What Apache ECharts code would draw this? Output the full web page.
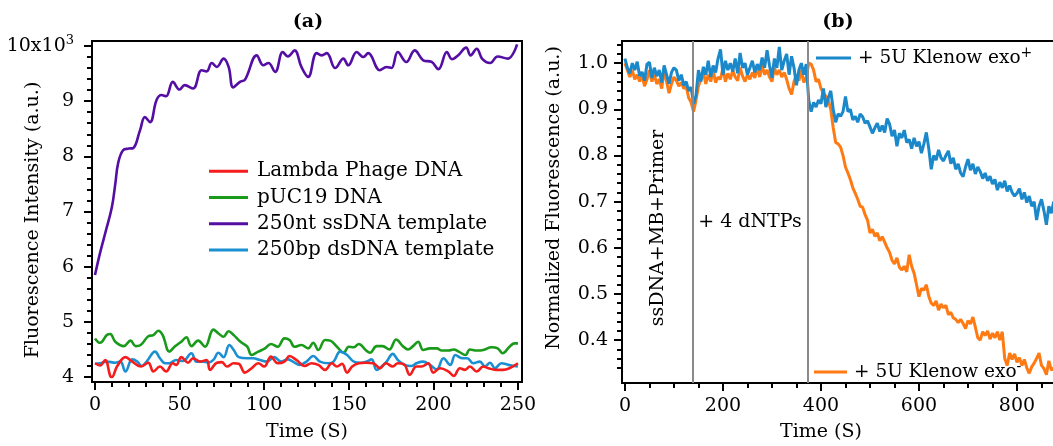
<!DOCTYPE html>
<html>
<head>
<meta charset="utf-8">
<script src="https://cdn.jsdelivr.net/npm/echarts@6/dist/echarts.min.js"></script>
<style>
  html, body { margin: 0; padding: 0; background: #fff; }
  #chart { width: 1053px; height: 446px; }
</style>
</head>
<body>
<div id="chart"></div>
<script>
// ---------- Panel (a): fluorescence vs time, [time (s), intensity (x10^3 a.u.)] ----------
const seriesNamesA = ['Lambda Phage DNA', 'pUC19 DNA', '250nt ssDNA template', '250bp dsDNA template'];
const colorsA = ['#f51c1c', '#1a9a1a', '#540ea3', '#1a8fd2'];

const lambdaData = [[0,4.25],[3,4.21],[6,4.31],[9,4.02],[10,4.0],[13,4.19],[18,4.36],[22,4.28],[27,4.19],[31.5,4.26],[34.5,4.10],[38.4,4.19],[42,4.10],[46,4.25],[48,4.22],[51,4.36],[55,4.26],[58,4.34],[62,4.28],[66,4.31],[68,4.13],[72,4.26],[75,4.27],[78,4.19],[82,4.25],[85,4.24],[88.6,4.08],[92.6,4.16],[96.5,4.25],[100,4.19],[104,4.37],[108,4.25],[112,4.28],[115,4.38],[119,4.31],[124,4.20],[128,4.25],[132,4.22],[136,4.13],[140,4.25],[143,4.19],[146,4.24],[149,4.08],[152,4.19],[156,4.25],[160,4.26],[164.5,4.25],[168.4,4.16],[172,4.25],[176,4.19],[179,4.25],[183,4.22],[186,4.04],[190,4.19],[193,4.19],[197,4.25],[200,4.08],[204,4.16],[209,4.10],[212,4.02],[215.7,4.16],[218.7,4.13],[221.6,4.19],[225.6,4.10],[229.5,4.19],[232.5,4.16],[237,4.13],[241,4.13],[245,4.16],[250,4.25]];

const pucData = [[0,4.70],[3,4.62],[7,4.76],[9,4.78],[12,4.64],[17,4.56],[21,4.66],[24,4.56],[27,4.58],[31.5,4.74],[34.5,4.76],[37.4,4.84],[40,4.76],[44,4.46],[47,4.55],[51,4.64],[54,4.72],[57,4.56],[61,4.66],[65,4.55],[70,4.86],[73,4.79],[76,4.73],[79,4.83],[82,4.76],[86,4.64],[90,4.55],[92.6,4.40],[96.5,4.46],[100.5,4.52],[104,4.60],[108,4.55],[112,4.70],[115,4.67],[118,4.55],[122,4.58],[126,4.52],[129,4.62],[132,4.49],[136,4.67],[139,4.66],[143,4.55],[147,4.44],[150,4.55],[153,4.54],[156,4.60],[160,4.49],[162.5,4.44],[166.5,4.56],[170,4.56],[174,4.50],[178,4.68],[182,4.56],[185,4.50],[188,4.56],[191,4.64],[194,4.49],[198,4.52],[202,4.52],[205,4.48],[209,4.48],[212,4.50],[215,4.46],[219,4.40],[221.6,4.50],[225.6,4.48],[229.5,4.49],[234.4,4.54],[238,4.52],[241,4.43],[245,4.55],[248,4.61],[250,4.61]];

const ssData = [[0,5.85],[3,6.25],[6.5,6.66],[10,7.08],[12,7.5],[13.7,7.88],[16.6,8.11],[20,8.14],[22.6,8.15],[26.6,8.47],[29.5,8.71],[32.5,8.62],[36.4,9.02],[39.3,9.11],[42,9.09],[46,9.35],[50,9.21],[53,9.29],[58,9.23],[63,9.56],[66,9.54],[69,9.69],[72,9.62],[76,9.77],[79,9.62],[81.7,9.25],[85.7,9.35],[88.7,9.39],[95.6,9.83],[99.5,9.65],[102.5,9.69],[106.5,9.53],[111,9.89],[114,9.81],[118,9.92],[122,9.62],[126,9.44],[131,9.87],[134,9.83],[137,9.87],[142,9.60],[146.8,9.77],[149.7,9.65],[154.7,9.89],[158.6,9.80],[161.5,9.87],[168.4,9.56],[172.3,9.62],[175.2,9.60],[179,9.89],[184,9.71],[189,9.92],[194,9.74],[199,9.71],[203,9.58],[208,9.89],[211,9.76],[214.7,9.83],[219.4,9.97],[222,9.83],[225.6,9.95],[229,9.76],[233.5,9.69],[238,9.81],[244,9.77],[249.5,10.03]];

const dsData = [[0,4.24],[3,4.25],[7,4.28],[12,4.26],[15,4.28],[18,4.10],[22,4.32],[25,4.28],[27.6,4.20],[30.5,4.28],[35.5,4.46],[38.4,4.34],[41.4,4.25],[44,4.25],[48,4.31],[52,4.29],[57,4.43],[60,4.28],[64,4.28],[67,4.26],[70,4.31],[73,4.44],[76,4.36],[79.4,4.58],[82,4.49],[85,4.36],[90,4.34],[93.6,4.34],[97.5,4.31],[101.5,4.28],[106,4.36],[110,4.28],[114,4.32],[117,4.28],[121,4.22],[125,4.28],[129,4.38],[133,4.28],[138,4.25],[141,4.28],[145,4.46],[149,4.40],[153,4.28],[157,4.26],[160.5,4.28],[163.5,4.32],[166.5,4.13],[169.4,4.19],[172.4,4.28],[176,4.42],[179,4.31],[183,4.22],[187,4.20],[190,4.25],[194,4.28],[198,4.22],[202,4.14],[206,4.34],[210,4.22],[213,4.40],[217,4.34],[220,4.34],[223.6,4.25],[227.5,4.28],[230.5,4.19],[233.5,4.26],[236.4,4.16],[240.3,4.25],[244.4,4.22],[248,4.20],[250,4.19]];

const xTicksA = [0, 50, 100, 150, 200, 250];
const yTicksA = [4, 5, 6, 7, 8, 9, 10];

// ---------- Panel (b): normalized fluorescence, sampled every 5 s ----------
const seriesNamesB = ['+ 5U Klenow exo+', '+ 5U Klenow exo-'];
const colorsB = ['#1b88c9', '#ff7a12'];

const timeB = [
  0,5,10,15,20,25,30,35,40,45, 50,55,60,65,70,75,80,85,90,95,
  100,105,110,115,120,125,130,135,140,145, 150,155,160,165,170,175,180,185,190,195,
  200,205,210,215,220,225,230,235,240,245, 250,255,260,265,270,275,280,285,290,295,
  300,305,310,315,320,325,330,335,340,345, 350,355,360,365,370,375,380,385,390,395,
  400,405,410,415,420,425,430,435,440,445, 450,455,460,465,470,475,480,485,490,495,
  500,505,510,515,520,525,530,535,540,545, 550,555,560,565,570,575,580,585,590,595,
  600,605,610,615,620,625,630,635,640,645, 650,655,660,665,670,675,680,685,690,695,
  700,705,710,715,720,725,730,735,740,745, 750,755,760,765,770,775,780,785,790,795,
  800,805,810,815,820,825,830,835,840,845, 850,855,860,865,870,875,880
];

const exoPlus = [
  1.010,0.990,0.978,1.000,0.985,1.003,0.972,0.981,0.962,0.998,
  1.002,0.968,0.990,0.972,0.985,0.958,0.995,0.975,0.955,0.980,
  0.990,0.985,0.962,0.975,0.952,0.960,0.940,0.948,0.912,0.930,
  0.985,0.960,0.992,0.975,1.005,0.970,0.995,0.980,1.010,1.030,
  0.975,1.005,0.985,1.000,0.982,1.010,0.978,1.022,0.990,1.000,
  0.975,0.990,1.005,0.980,0.998,0.985,1.012,0.990,1.028,0.995,
  0.968,1.010,0.990,1.035,0.985,1.005,1.020,0.975,1.015,0.990,
  0.952,0.985,1.000,0.975,0.998,0.920,0.895,0.915,0.905,0.920,
  0.912,0.945,0.905,0.925,0.940,0.900,0.872,0.890,0.885,0.895,
  0.928,0.895,0.900,0.877,0.885,0.872,0.890,0.884,0.870,0.875,
  0.862,0.848,0.860,0.870,0.852,0.865,0.850,0.880,0.868,0.842,
  0.855,0.820,0.848,0.838,0.855,0.828,0.835,0.815,0.838,0.820,
  0.830,0.805,0.825,0.850,0.815,0.770,0.800,0.790,0.812,0.795,
  0.788,0.800,0.810,0.782,0.795,0.770,0.782,0.762,0.754,0.775,
  0.792,0.768,0.782,0.760,0.775,0.765,0.750,0.762,0.745,0.755,
  0.738,0.748,0.725,0.742,0.730,0.745,0.722,0.735,0.720,0.712,
  0.718,0.728,0.705,0.720,0.698,0.712,0.690,0.700,0.660,0.690,
  0.705,0.680,0.650,0.690,0.675,0.700,0.680
];

const exoMinus = [
  1.000,0.985,0.970,0.985,0.965,0.975,0.960,0.975,0.950,0.965,
  0.985,0.960,0.975,0.955,0.965,0.945,0.985,0.960,0.935,0.955,
  0.970,0.962,0.950,0.958,0.945,0.950,0.925,0.915,0.895,0.920,
  0.950,0.965,0.980,0.955,0.975,0.960,0.985,0.958,0.970,0.965,
  0.990,0.960,0.978,0.965,0.985,0.970,0.962,0.990,0.972,0.960,
  0.975,0.965,0.980,0.968,0.990,0.970,0.995,0.975,0.985,0.970,
  0.960,0.990,0.975,0.985,0.970,0.980,0.965,0.945,0.932,0.960,
  0.975,0.962,0.985,0.958,0.970,1.000,0.998,0.985,0.960,0.965,
  0.945,0.935,0.928,0.920,0.900,0.860,0.828,0.825,0.818,0.800,
  0.775,0.762,0.748,0.730,0.718,0.705,0.690,0.688,0.672,0.660,
  0.632,0.640,0.625,0.632,0.615,0.624,0.612,0.600,0.590,0.573,
  0.565,0.578,0.558,0.552,0.560,0.548,0.585,0.560,0.545,0.520,
  0.494,0.512,0.508,0.520,0.495,0.480,0.475,0.485,0.465,0.478,
  0.470,0.475,0.455,0.460,0.448,0.445,0.438,0.445,0.436,0.425,
  0.442,0.435,0.450,0.428,0.405,0.400,0.418,0.410,0.420,0.402,
  0.415,0.405,0.418,0.400,0.418,0.360,0.345,0.372,0.358,0.370,
  0.352,0.362,0.345,0.358,0.340,0.328,0.342,0.350,0.360,0.372,
  0.345,0.338,0.325,0.355,0.335,0.340,0.330
];

// Times at which reagents were added (grey markers)
const additionTimes = [139, 373];

const xTicksB = [0, 200, 400, 600, 800];
const yTicksB = [0.4, 0.5, 0.6, 0.7, 0.8, 0.9, 1.0];

// ---------- helpers ----------
const FONT = 'DejaVu Serif';
const FS = 19;
const FS_LEGEND_A = 20;
const FS_LEGEND_B = 18.5;

function minorBetween(lo, hi, step, skipEvery) {
  // minor tick positions on an integer grid to avoid float drift
  const out = [];
  const n = Math.round((hi - lo) / step);
  for (let i = 0; i <= n; i++) {
    if (i % skipEvery !== 0) out.push(+(lo + i * step).toFixed(4));
  }
  return out;
}
const xMinorA = minorBetween(0, 250, 10, 5);
const yMinorA = minorBetween(4, 10, 0.2, 5);
const xMinorB = minorBetween(0, 900, 50, 4);
const yMinorB = minorBetween(0.32, 1.04, 0.02, 1000).filter(v => Math.abs(v * 10 - Math.round(v * 10)) > 1e-6);

const zip = (t, v) => t.map((x, i) => [x, v[i]]);

const axisLineStyle = { color: '#000', width: 2 };

function majorAxis(gridIndex, position, min, max, ticks, labelOpts) {
  return {
    type: 'value', gridIndex, position, min, max,
    axisLine: { show: true, onZero: false, lineStyle: axisLineStyle },
    axisTick: { show: true, inside: false, length: 8, lineStyle: { color: '#000', width: 2 }, customValues: ticks },
    axisLabel: Object.assign({ show: true, customValues: ticks, color: '#000', fontFamily: FONT, fontSize: FS }, labelOpts),
    splitLine: { show: false }
  };
}
function minorAxis(gridIndex, position, min, max, ticks) {
  return {
    type: 'value', gridIndex, position, min, max,
    axisLine: { show: false, onZero: false },
    axisTick: { show: true, inside: false, length: 5, lineStyle: { color: '#000', width: 2 }, customValues: ticks },
    axisLabel: { show: false },
    splitLine: { show: false }
  };
}

const supRich = {
  m: { fontFamily: FONT, fontSize: FS, color: '#000', lineHeight: 24 },
  s: { fontFamily: FONT, fontSize: 13, color: '#000', verticalAlign: 'top', lineHeight: 14 }
};
const supRichLegend = {
  m: { fontFamily: FONT, fontSize: FS_LEGEND_B, color: '#000', lineHeight: 24 },
  s: { fontFamily: FONT, fontSize: 14, color: '#000', verticalAlign: 'top', lineHeight: 13 }
};

const chart = echarts.init(document.getElementById('chart'), null, { renderer: 'canvas' });

const option = {
  animation: false,
  backgroundColor: '#fff',
  grid: [
    { left: 92, top: 41, width: 430, height: 341, outerBoundsMode: 'none', containLabel: false, show: true, borderColor: '#000', borderWidth: 2, backgroundColor: 'transparent' },
    { left: 622, top: 41, width: 444, height: 342, outerBoundsMode: 'none', containLabel: false, show: true, borderColor: '#000', borderWidth: 2, backgroundColor: 'transparent' }
  ],
  xAxis: [
    majorAxis(0, 'bottom', -1.77, 252.4, xTicksA, { margin: 14, formatter: v => String(v) }),
    minorAxis(0, 'bottom', -1.77, 252.4, xMinorA),
    majorAxis(1, 'bottom', -6, 900, xTicksB, { margin: 14, formatter: v => String(v) }),
    minorAxis(1, 'bottom', -6, 900, xMinorB)
  ],
  yAxis: [
    majorAxis(0, 'left', 3.91, 10.09, yTicksA, {
      margin: 18,
      formatter: v => (v === 10 ? '{m|10x10}{s|3}' : '{m|' + v + '}'),
      rich: supRich
    }),
    minorAxis(0, 'left', 3.91, 10.09, yMinorA),
    majorAxis(1, 'left', 0.307, 1.048, yTicksB, { margin: 14, formatter: v => v.toFixed(1) }),
    minorAxis(1, 'left', 0.307, 1.048, yMinorB)
  ],
  legend: [
    {
      data: seriesNamesA, orient: 'vertical', left: 209, top: 158, padding: 0, itemGap: 0,
      icon: 'rect', itemWidth: 39, itemHeight: 3,
      textStyle: { fontFamily: FONT, fontSize: FS_LEGEND_A, color: '#000', lineHeight: 26.3, padding: [0, 0, 0, 4] },
      selectedMode: false
    },
    {
      data: [seriesNamesB[0]], left: 816, top: 46, padding: 0,
      icon: 'rect', itemWidth: 35, itemHeight: 3,
      formatter: () => '{m|+ 5U Klenow exo}{s|+}',
      textStyle: { fontFamily: FONT, fontSize: FS_LEGEND_B, color: '#000', padding: [0, 0, 0, 2], rich: supRichLegend },
      selectedMode: false
    },
    {
      data: [seriesNamesB[1]], left: 814, top: 360, padding: 0,
      icon: 'rect', itemWidth: 33, itemHeight: 3,
      formatter: () => '{m|+ 5U Klenow exo}{s|-}',
      textStyle: { fontFamily: FONT, fontSize: FS_LEGEND_B, color: '#000', padding: [0, 0, 0, 2], rich: supRichLegend },
      selectedMode: false
    }
  ],
  graphic: [
    { type: 'text', x: 308, y: 22, style: { text: '(a)', fontFamily: FONT, fontSize: 19, fontWeight: 'bold', fill: '#000', align: 'center', verticalAlign: 'middle' } },
    { type: 'text', x: 838, y: 22, style: { text: '(b)', fontFamily: FONT, fontSize: 19, fontWeight: 'bold', fill: '#000', align: 'center', verticalAlign: 'middle' } },
    { type: 'text', x: 307, y: 432, style: { text: 'Time (S)', fontFamily: FONT, fontSize: FS, fill: '#000', align: 'center', verticalAlign: 'middle' } },
    { type: 'text', x: 821, y: 432, style: { text: 'Time (S)', fontFamily: FONT, fontSize: FS, fill: '#000', align: 'center', verticalAlign: 'middle' } },
    { type: 'text', x: 33, y: 220, rotation: Math.PI / 2, style: { text: 'Fluorescence Intensity (a.u.)', fontFamily: FONT, fontSize: FS, fill: '#000', align: 'center', verticalAlign: 'middle' } },
    { type: 'text', x: 554, y: 198, rotation: Math.PI / 2, style: { text: 'Normalized Fluorescence (a.u.)', fontFamily: FONT, fontSize: FS, fill: '#000', align: 'center', verticalAlign: 'middle' } },
    { type: 'text', x: 658, y: 228, rotation: Math.PI / 2, style: { text: 'ssDNA+MB+Primer', fontFamily: FONT, fontSize: FS, fill: '#000', align: 'center', verticalAlign: 'middle' } },
    { type: 'text', x: 750, y: 222, style: { text: '+ 4 dNTPs', fontFamily: FONT, fontSize: FS, fill: '#000', align: 'center', verticalAlign: 'middle' } }
  ],
  series: [
    { name: seriesNamesA[2], type: 'line', xAxisIndex: 0, yAxisIndex: 0, data: ssData, smooth: 0.4, showSymbol: false, lineStyle: { width: 2.6, color: colorsA[2] }, itemStyle: { color: colorsA[2] } },
    { name: seriesNamesA[1], type: 'line', xAxisIndex: 0, yAxisIndex: 0, data: pucData, smooth: 0.4, showSymbol: false, lineStyle: { width: 2.6, color: colorsA[1] }, itemStyle: { color: colorsA[1] } },
    { name: seriesNamesA[3], type: 'line', xAxisIndex: 0, yAxisIndex: 0, data: dsData, smooth: 0.4, showSymbol: false, lineStyle: { width: 2.6, color: colorsA[3] }, itemStyle: { color: colorsA[3] } },
    { name: seriesNamesA[0], type: 'line', xAxisIndex: 0, yAxisIndex: 0, data: lambdaData, smooth: 0.4, showSymbol: false, lineStyle: { width: 2.6, color: colorsA[0] }, itemStyle: { color: colorsA[0] } },
    {
      name: seriesNamesB[1], type: 'line', xAxisIndex: 2, yAxisIndex: 2, data: zip(timeB, exoMinus), showSymbol: false,
      lineStyle: { width: 3, color: colorsB[1] }, itemStyle: { color: colorsB[1] },
      markLine: {
        silent: true, symbol: ['none', 'none'], label: { show: false },
        lineStyle: { color: '#8a8a8a', width: 2, type: 'solid' },
        data: additionTimes.map(t => ({ xAxis: t }))
      }
    },
    { name: seriesNamesB[0], type: 'line', xAxisIndex: 2, yAxisIndex: 2, data: zip(timeB, exoPlus), showSymbol: false, lineStyle: { width: 3, color: colorsB[0] }, itemStyle: { color: colorsB[0] } }
  ]
};

chart.setOption(option);
</script>
</body>
</html>
